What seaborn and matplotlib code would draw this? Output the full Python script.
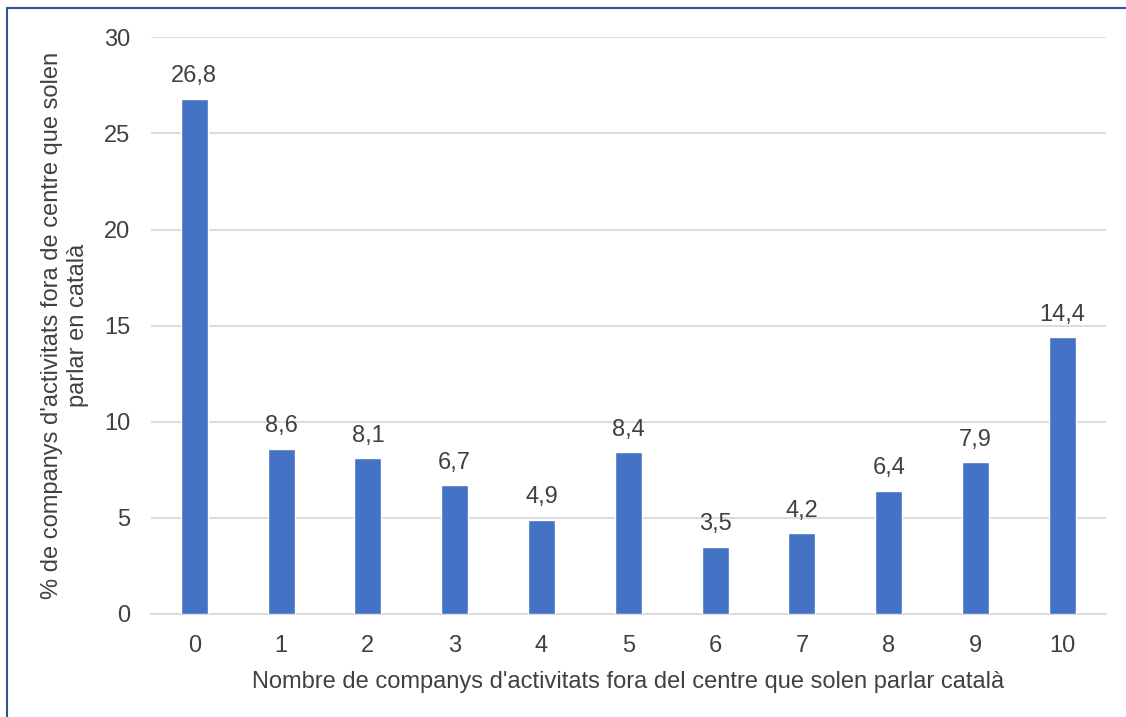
import matplotlib
matplotlib.use("Agg")
import matplotlib.pyplot as plt
import seaborn as sns
import pandas as pd

categories = ["0", "1", "2", "3", "4", "5", "6", "7", "8", "9", "10"]
values = [26.8, 8.6, 8.1, 6.7, 4.9, 8.4, 3.5, 4.2, 6.4, 7.9, 14.4]

sns.set_style("white")
plt.rcParams['font.family'] = ['Liberation Sans', 'DejaVu Sans']

df = pd.DataFrame({"cat": categories, "val": values})

fig = plt.figure(figsize=(11.26, 7.17), dpi=100)
ax = fig.add_axes([0.134, 0.1437, 0.848, 0.8043])

sns.barplot(data=df, x="cat", y="val", color="#4472C4", width=0.31,
            saturation=1, ax=ax, zorder=3)

ax.set_ylim(0, 30)
ax.set_yticks(range(0, 31, 5))
ax.yaxis.grid(True, color="#D9D9D9", linewidth=1.3, zorder=0)
for s in ["top", "right", "left"]:
    ax.spines[s].set_visible(False)
ax.spines["bottom"].set_color("#D9D9D9")
ax.spines["bottom"].set_linewidth(1.3)
ax.tick_params(axis="both", length=0, labelsize=17, labelcolor="#404040")
ax.tick_params(axis="y", pad=15)
ax.tick_params(axis="x", pad=15)

for i, v in enumerate(values):
    ax.text(i, v + 0.6, f"{v:.1f}".replace(".", ","), ha="center", va="bottom",
            fontsize=17, color="#404040")

ax.set_xlabel("Nombre de companys d'activitats fora del centre que solen parlar català",
              fontsize=17, color="#404040", labelpad=10)
ax.set_ylabel("% de companys d'activitats fora de centre que solen\nparlar en català",
              fontsize=17, color="#404040", labelpad=11)

# frame line of the original image (left and top edges)
fig.add_artist(plt.Line2D([0.0062, 0.0062], [0, 0.989], transform=fig.transFigure,
                          color="#2F5597", linewidth=1.5))
fig.add_artist(plt.Line2D([0.0062, 1], [0.989, 0.989], transform=fig.transFigure,
                          color="#2F5597", linewidth=1.5))

fig.savefig("out.png", dpi=100)
